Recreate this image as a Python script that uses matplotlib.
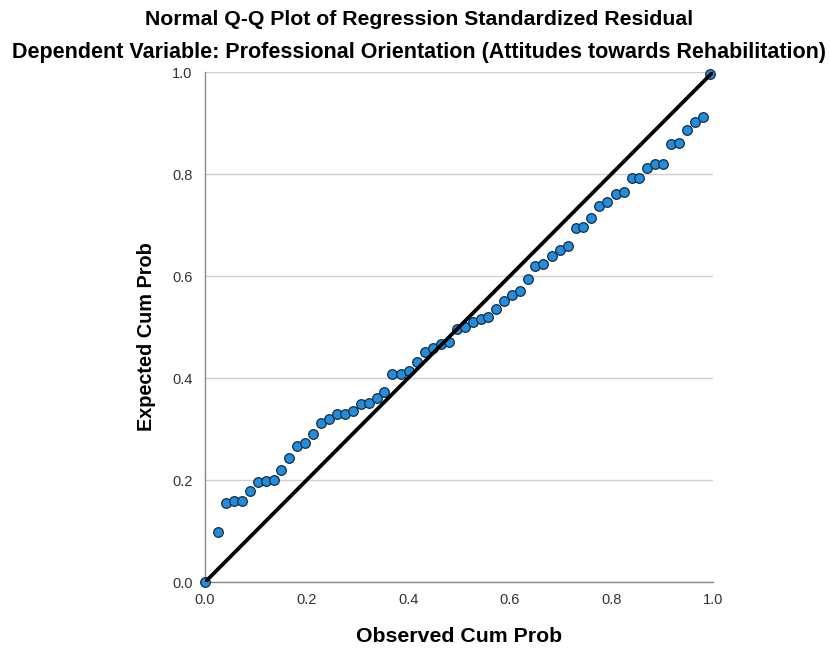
import matplotlib
matplotlib.use("Agg")
import matplotlib.pyplot as plt

# Observed vs expected cumulative probabilities
observed = [0.000, 0.026, 0.041, 0.057, 0.073, 0.089, 0.104, 0.120, 0.136, 0.150,
            0.165, 0.181, 0.197, 0.213, 0.228, 0.244, 0.260, 0.276, 0.291, 0.307,
            0.323, 0.339, 0.352, 0.368, 0.386, 0.402, 0.417, 0.433, 0.449, 0.465,
            0.480, 0.496, 0.512, 0.528, 0.543, 0.557, 0.573, 0.589, 0.604, 0.620,
            0.636, 0.650, 0.665, 0.683, 0.699, 0.715, 0.730, 0.744, 0.760, 0.776,
            0.791, 0.809, 0.825, 0.841, 0.854, 0.870, 0.886, 0.902, 0.917, 0.933,
            0.949, 0.965, 0.980, 0.994]
expected = [0.000, 0.098, 0.155, 0.159, 0.159, 0.178, 0.196, 0.198, 0.200, 0.220,
            0.243, 0.267, 0.273, 0.290, 0.312, 0.320, 0.329, 0.329, 0.335, 0.349,
            0.351, 0.361, 0.373, 0.408, 0.408, 0.414, 0.431, 0.451, 0.459, 0.467,
            0.471, 0.496, 0.500, 0.510, 0.516, 0.520, 0.535, 0.551, 0.563, 0.571,
            0.594, 0.620, 0.624, 0.639, 0.651, 0.659, 0.694, 0.696, 0.714, 0.737,
            0.745, 0.761, 0.765, 0.792, 0.792, 0.812, 0.820, 0.820, 0.859, 0.861,
            0.886, 0.902, 0.912, 0.996]
ticks = [0.0, 0.2, 0.4, 0.6, 0.8, 1.0]
tick_labels = ["0.0", "0.2", "0.4", "0.6", "0.8", "1.0"]

plt.rcParams['font.family'] = ['Liberation Sans', 'DejaVu Sans']

fig = plt.figure(figsize=(8.3, 6.49), dpi=100)
ax = fig.add_axes([0.247, 0.103, 0.612, 0.786])

ax.scatter(observed, expected, s=48, color="#1f8ee0", edgecolors="#1a2a3a",
           linewidths=0.9, zorder=3, clip_on=False)
ax.plot([0, 1], [0, 1], color="black", linewidth=2.7, zorder=4,
        solid_capstyle="butt")

ax.set_xlim(0, 1)
ax.set_ylim(0, 1)
ax.set_xticks(ticks)
ax.set_xticklabels(tick_labels)
ax.set_yticks(ticks)
ax.set_yticklabels(tick_labels)
ax.tick_params(length=0, labelsize=10.5, colors="#333333")
ax.tick_params(axis="x", pad=8)
ax.tick_params(axis="y", pad=9)

# horizontal gridlines only
ax.grid(axis="y", color="#d0d0d0", linewidth=1.0)
ax.set_axisbelow(True)
for side in ["top", "right"]:
    ax.spines[side].set_visible(False)
for side in ["left", "bottom"]:
    ax.spines[side].set_color("#888888")
    ax.spines[side].set_linewidth(1.0)

ax.set_xlabel("Observed Cum Prob", fontsize=15.3, fontweight="bold", labelpad=14)
ax.set_ylabel("Expected Cum Prob", fontsize=14.3, fontweight="bold")
ax.yaxis.set_label_coords(-0.097, 0.482)

fig.text(0.505, 0.970, "Normal Q-Q Plot of Regression Standardized Residual",
         ha="center", va="center", fontsize=15.3, fontweight="bold")
fig.text(0.505, 0.919,
         "Dependent Variable: Professional Orientation (Attitudes towards Rehabilitation)",
         ha="center", va="center", fontsize=15.5, fontweight="bold")

fig.savefig("out.png", dpi=100)
